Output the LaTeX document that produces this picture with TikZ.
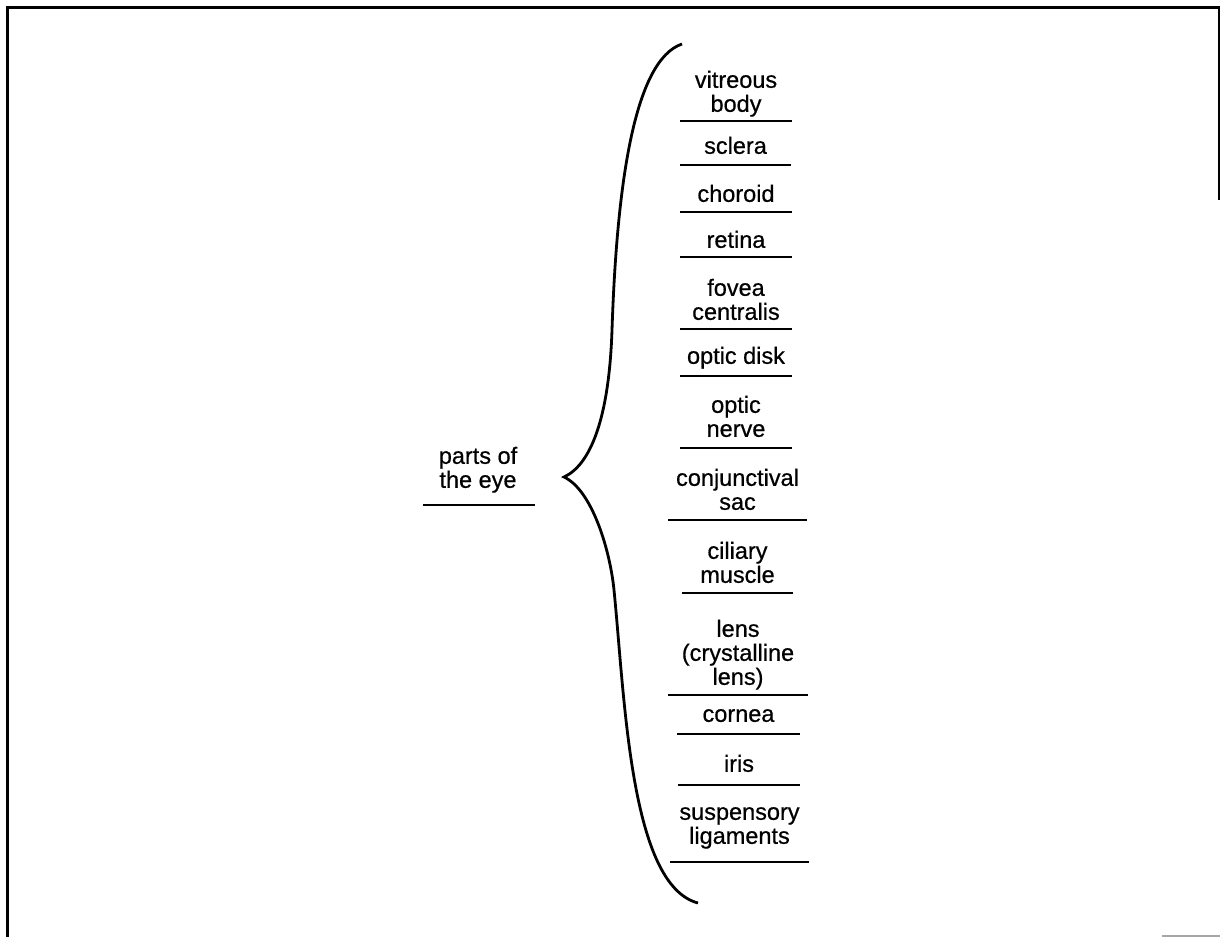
\documentclass[tikz,border=0pt]{standalone}
\usepackage{fontspec}
\setmainfont{Liberation Sans}[FakeBold=0.6]
\begin{document}
\begin{tikzpicture}[x=1pt,y=-1pt,
  lab/.style={anchor=south, inner sep=0pt, text depth=0pt, align=center,
              font=\fontsize{23.5}{24}\selectfont},
  rule/.style={line width=2pt},
  bracestroke/.style={line width=2.8pt, line join=miter},
  frame/.style={line width=3pt}]
\useasboundingbox (0,0) rectangle (1220,937);
% frame
\coordinate (fbl) at (7,937);
\coordinate (ftl) at (7,7);
\coordinate (ftr) at (1219,7);
\coordinate (fr) at (1219,200);
\draw[frame] (fbl) -- (ftl) -- (ftr) -- (fr);
\coordinate (gb1) at (1162,936);
\coordinate (gb2) at (1220,936);
\draw[line width=2pt, black!35] (gb1) -- (gb2);
% left label
\node[lab] (parts) at (478,488) {parts of\\the eye};
\coordinate (pa) at (423,505);
\coordinate (pb) at (535,505);
\draw[rule] (pa) -- (pb);
% brace
\coordinate (btop) at (682,44);
\coordinate (bm1) at (612,330);
\coordinate (btip) at (564,477);
\coordinate (bm2) at (614,590);
\coordinate (bbot) at (698,903);
\draw[bracestroke] (btop) .. controls (635,60) and (617,180) .. (bm1)
  .. controls (609,420) and (590,465) .. (btip)
  .. controls (592,490) and (610,550) .. (bm2)
  .. controls (625,700) and (630,885) .. (bbot);
% right labels
\foreach \t/\b/\y/\xa/\xb [count=\i] in {
  {vitreous\\body}/112/121/680/792,
  {sclera}/154/165/680/791,
  {choroid}/202/212/680/792,
  {retina}/248/257/680/792,
  {fovea\\centralis}/320/329/680/792,
  {optic disk}/364/376/680/792,
  {optic\\nerve}/437/448/680/792,
  {conjunctival\\sac}/510/520/668/807,
  {ciliary\\muscle}/583/593/682/793,
  {lens\\(crystalline\\lens)}/685/695/668/808,
  {cornea}/722/734/677/800,
  {iris}/772/785/678/800,
  {suspensory\\ligaments}/844/862/670/809}{
  \node[lab] (p\i) at ({(\xa+\xb)/2},\b) {\t};
  \coordinate (la\i) at (\xa,\y);
  \coordinate (lb\i) at (\xb,\y);
  \draw[rule] (la\i) -- (lb\i);
}
\end{tikzpicture}
\end{document}
